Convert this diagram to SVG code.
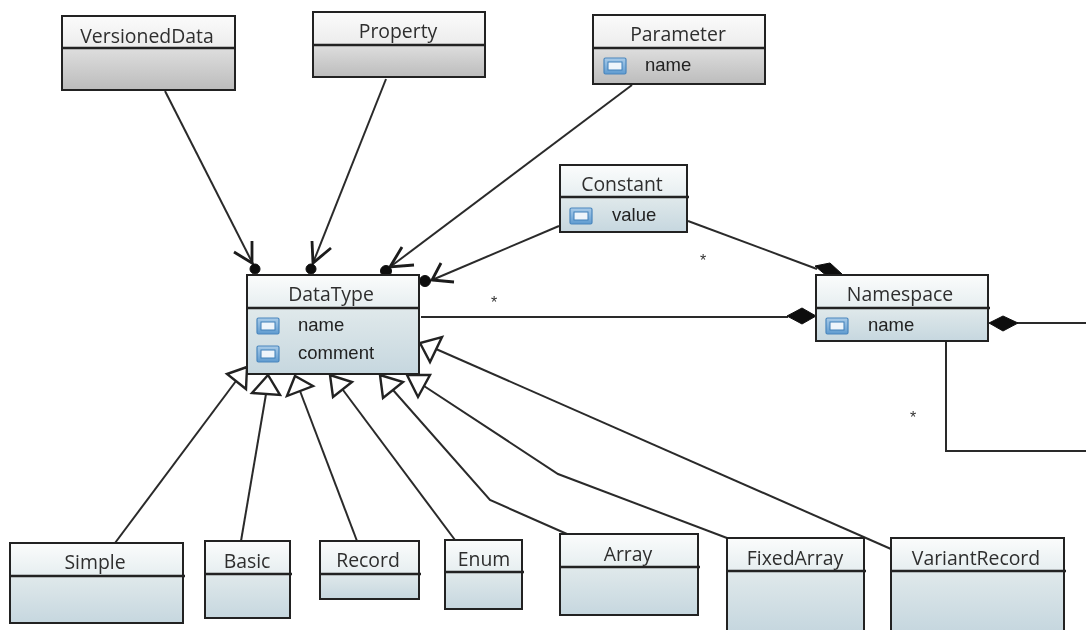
<svg xmlns="http://www.w3.org/2000/svg" width="1086" height="630" viewBox="0 0 1086 630">
<style>
.box{stroke:#222;stroke-width:2;fill:none}
.hb{fill:url(#hb)}.bb{fill:url(#bb)}.hg{fill:url(#hg)}.bg{fill:url(#bg)}
.div{stroke:#222;stroke-width:2.4}
.t{font-family:"Open Sans","Liberation Sans",sans-serif;font-size:19.4px;fill:#2e2e2e;text-anchor:middle}
.a{font-family:"Liberation Sans",Arial,sans-serif;font-size:18.5px;fill:#222}
.star{font-family:"Liberation Sans",Arial,sans-serif;font-size:16px;fill:#333;text-anchor:middle}
.c{fill:none;stroke:#2a2a2a;stroke-width:2}
.open{fill:none;stroke:#1a1a1a;stroke-width:2.8}
.tri{fill:#fff;stroke:#222;stroke-width:2.4}
.fil{fill:#111;stroke:#111;stroke-width:1}
</style>
<defs>
<linearGradient id="hb" x1="0" y1="0" x2="0" y2="1"><stop offset="0" stop-color="#fbfcfc"/><stop offset="1" stop-color="#e6eef0"/></linearGradient>
<linearGradient id="bb" x1="0" y1="0" x2="0" y2="1"><stop offset="0" stop-color="#e0e9eb"/><stop offset="1" stop-color="#c6d7df"/></linearGradient>
<linearGradient id="hg" x1="0" y1="0" x2="0" y2="1"><stop offset="0" stop-color="#fbfbfb"/><stop offset="1" stop-color="#ececec"/></linearGradient>
<linearGradient id="bg" x1="0" y1="0" x2="0" y2="1"><stop offset="0" stop-color="#dedede"/><stop offset="1" stop-color="#bcbcbc"/></linearGradient>
<linearGradient id="ic" x1="0" y1="0" x2="0" y2="1"><stop offset="0" stop-color="#a9cbe8"/><stop offset="1" stop-color="#5f9bd0"/></linearGradient>
<g id="icon"><rect x="0" y="0" width="22" height="16" rx="1.5" fill="url(#ic)" stroke="#4a86bd" stroke-width="1.2"/><rect x="4" y="4" width="14" height="8" fill="#eef5fb" stroke="#3f7fb8" stroke-width="1"/></g>
<filter id="soft" x="0" y="0" width="1086" height="630" filterUnits="userSpaceOnUse"><feGaussianBlur stdDeviation="0.5"/></filter>
</defs>
<rect width="1086" height="630" fill="#fff"/>
<g filter="url(#soft)">
<g id="connectors">
<path class="c" d="M165 91L254 266"/>
<path class="open" d="M252 241L252 263L234 252"/><circle class="fil" cx="255" cy="269" r="5"/>
<path class="c" d="M386 79L313 263"/>
<path class="open" d="M312 241L313 263L331 248"/><circle class="fil" cx="311" cy="269" r="5"/>
<path class="c" d="M632 85L390 267"/>
<path class="open" d="M402 247L390 267L414 265"/><circle class="fil" cx="386" cy="271" r="5.5"/>
<path class="c" d="M559 226L432 280"/>
<path class="open" d="M441 263L432 280L454 282"/><circle class="fil" cx="425" cy="281" r="5.5"/>
<path class="c" d="M688 221L817 269"/>
<polygon class="fil" points="815,266 830,263 842,274 828,277"/>
<path class="c" d="M421 317L788 317"/>
<polygon class="fil" points="787,316 802,308 816,316 802,324"/>
<path class="c" d="M1017 323L1086 323"/>
<polygon class="fil" points="989,323 1003,316 1018,323 1003,331"/>
<path class="c" d="M946 342L946 451L1086 451"/>
<path class="c" d="M115 543L236 381"/>
<polygon class="tri" points="247,367 227,374 246,389"/>
<path class="c" d="M241 541L266 394"/>
<polygon class="tri" points="268,375 252,393 280,395"/>
<path class="c" d="M357 541L300 391"/>
<polygon class="tri" points="295,376 287,396 313,386"/>
<path class="c" d="M455 540L343 390"/>
<polygon class="tri" points="330,375 333,397 352,382"/>
<path class="c" d="M567 534L490 500L393 390"/>
<polygon class="tri" points="380,375 383,398 403,382"/>
<path class="c" d="M727 538L558 474L424 386"/>
<polygon class="tri" points="407,375 418,397 430,375"/>
<path class="c" d="M891 549L436 349"/>
<polygon class="tri" points="420,343 430,362 442,337"/>
<text class="star" x="703" y="266">*</text>
<text class="star" x="494" y="308">*</text>
<text class="star" x="913" y="423">*</text>
</g>
<g id="VersionedData"><rect class="hg" x="62" y="16" width="173" height="32"/><rect class="bg" x="62" y="48" width="173" height="42"/><rect class="box" x="62" y="16" width="173" height="74"/><path class="div" d="M62 48H236"/><text class="t" x="147" y="43">VersionedData</text></g>
<g id="Property"><rect class="hg" x="313" y="12" width="172" height="33"/><rect class="bg" x="313" y="45" width="172" height="32"/><rect class="box" x="313" y="12" width="172" height="65"/><path class="div" d="M313 45H486"/><text class="t" x="398" y="38">Property</text></g>
<g id="Parameter"><rect class="hg" x="593" y="15" width="172" height="33"/><rect class="bg" x="593" y="48" width="172" height="36"/><rect class="box" x="593" y="15" width="172" height="69"/><path class="div" d="M593 48H766"/><text class="t" x="678" y="41">Parameter</text><use href="#icon" x="604" y="58"/><text class="a" x="645" y="71">name</text></g>
<g id="Constant"><rect class="hb" x="560" y="165" width="127" height="32"/><rect class="bb" x="560" y="197" width="127" height="35"/><rect class="box" x="560" y="165" width="127" height="67"/><path class="div" d="M560 197H689"/><text class="t" x="622" y="191">Constant</text><use href="#icon" x="570" y="208"/><text class="a" x="612" y="221">value</text></g>
<g id="DataType"><rect class="hb" x="247" y="275" width="172" height="33"/><rect class="bb" x="247" y="308" width="172" height="66"/><rect class="box" x="247" y="275" width="172" height="99"/><path class="div" d="M247 308H420"/><text class="t" x="331" y="301">DataType</text><use href="#icon" x="257" y="318"/><text class="a" x="298" y="331">name</text><use href="#icon" x="257" y="346"/><text class="a" x="298" y="359">comment</text></g>
<g id="Namespace"><rect class="hb" x="816" y="275" width="172" height="33"/><rect class="bb" x="816" y="308" width="172" height="33"/><rect class="box" x="816" y="275" width="172" height="66"/><path class="div" d="M816 308H990"/><text class="t" x="900" y="301">Namespace</text><use href="#icon" x="826" y="318"/><text class="a" x="868" y="331">name</text></g>
<g id="Simple"><rect class="hb" x="10" y="543" width="173" height="33"/><rect class="bb" x="10" y="576" width="173" height="47"/><rect class="box" x="10" y="543" width="173" height="80"/><path class="div" d="M10 576H185"/><text class="t" x="95" y="569">Simple</text></g>
<g id="Basic"><rect class="hb" x="205" y="541" width="85" height="33"/><rect class="bb" x="205" y="574" width="85" height="44"/><rect class="box" x="205" y="541" width="85" height="77"/><path class="div" d="M205 574H292"/><text class="t" x="247" y="568">Basic</text></g>
<g id="Record"><rect class="hb" x="320" y="541" width="99" height="33"/><rect class="bb" x="320" y="574" width="99" height="25"/><rect class="box" x="320" y="541" width="99" height="58"/><path class="div" d="M320 574H421"/><text class="t" x="368" y="567">Record</text></g>
<g id="Enum"><rect class="hb" x="445" y="540" width="77" height="32"/><rect class="bb" x="445" y="572" width="77" height="37"/><rect class="box" x="445" y="540" width="77" height="69"/><path class="div" d="M445 572H524"/><text class="t" x="484" y="566">Enum</text></g>
<g id="Array"><rect class="hb" x="560" y="534" width="138" height="33"/><rect class="bb" x="560" y="567" width="138" height="48"/><rect class="box" x="560" y="534" width="138" height="81"/><path class="div" d="M560 567H700"/><text class="t" x="628" y="561">Array</text></g>
<g id="FixedArray"><rect class="hb" x="727" y="538" width="137" height="33"/><rect class="bb" x="727" y="571" width="137" height="59"/><path class="box" d="M727 632V538H864V632"/><path class="div" d="M727 571H866"/><text class="t" x="795" y="565">FixedArray</text></g>
<g id="VariantRecord"><rect class="hb" x="891" y="538" width="173" height="33"/><rect class="bb" x="891" y="571" width="173" height="59"/><path class="box" d="M891 632V538H1064V632"/><path class="div" d="M891 571H1066"/><text class="t" x="976" y="565">VariantRecord</text></g>
</g>
</svg>
